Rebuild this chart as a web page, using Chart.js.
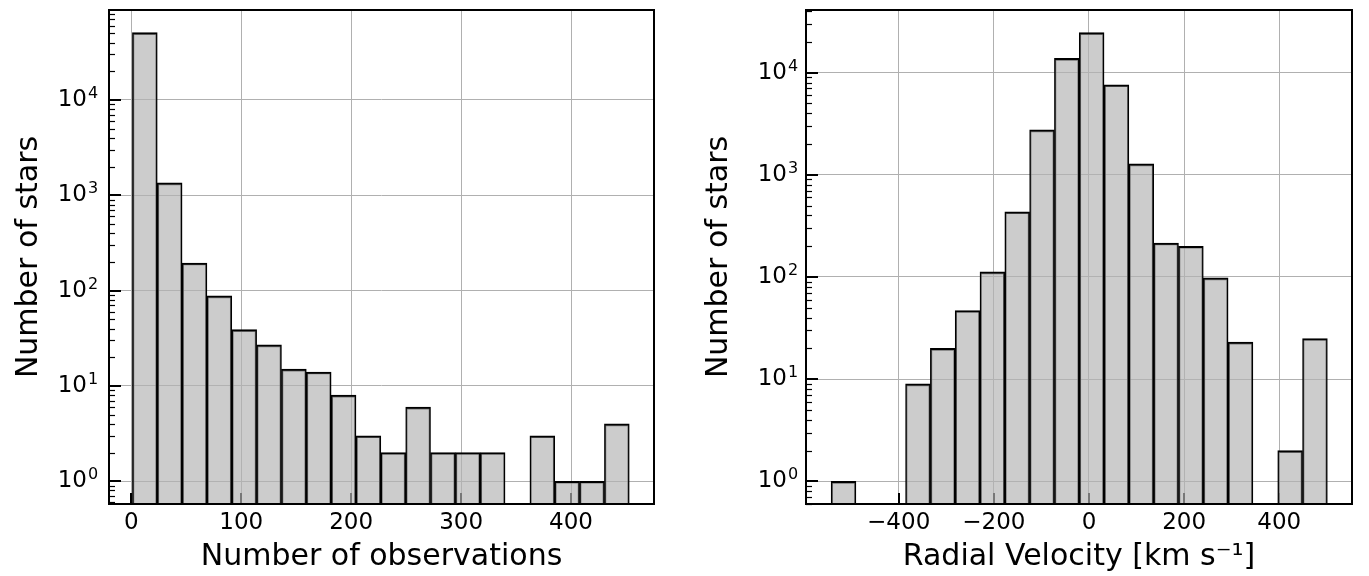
<!DOCTYPE html>
<html>
<head>
<meta charset="utf-8">
<script src="https://cdn.jsdelivr.net/npm/chart.js@4.4.1/dist/chart.umd.min.js"></script>
<style>
  html, body { margin: 0; padding: 0; background: #fff; }
  #wrap { position: relative; width: 1369px; height: 576px; }
  .panel { position: absolute; top: 0; height: 576px; }
</style>
</head>
<body>
<div id="wrap">
  <div class="panel" style="left:0;width:684px"><canvas id="obsChart" width="684" height="576"></canvas></div>
  <div class="panel" style="left:684px;width:685px"><canvas id="rvChart" width="685" height="576"></canvas></div>
</div>
<script>
// Left panel: number of observations per star (20 bins)
const obsBinStart = 1;
const obsBinWidth = 22.6;
const obsCounts = [50800, 1350, 195, 88, 39, 27, 15, 14, 8, 3, 2, 6, 2, 2, 2, 0, 3, 1, 1, 4];
const obsTicks = [0, 100, 200, 300, 400];

// Right panel: radial velocity (20 bins)
const rvBinStart = -542;
const rvBinWidth = 52.15;
const rvCounts = [1, 0, 0, 9, 20, 47, 112, 435, 2750, 13800, 24600, 7600, 1280, 215, 200, 98, 23, 0, 2, 25];
const rvTicks = [-400, -200, 0, 200, 400];

// Shared log y ticks
const logTicks = [1, 10, 100, 1000, 10000];

const FONT = "'DejaVu Sans', sans-serif";
Chart.defaults.font.family = FONT;
Chart.defaults.color = '#000';

const numLabel = (v) => (v < 0 ? '\u2212' + Math.abs(v) : String(v));

// Inside ticks (matplotlib style), axes frame and the 10^n exponents
const axisFrame = {
  id: 'axisFrame',
  beforeDatasetsDraw(chart) {
    const { ctx, chartArea: a, scales: { x } } = chart;
    ctx.save();
    ctx.strokeStyle = '#000';
    ctx.lineWidth = 2;
    x.ticks.forEach(t => {
      const px = Math.round(x.getPixelForValue(t.value));
      ctx.beginPath();
      ctx.moveTo(px, a.bottom);
      ctx.lineTo(px, a.bottom - 11);
      ctx.stroke();
    });
    ctx.restore();
  },
  afterDatasetsDraw(chart) {
    const { ctx, chartArea: a, scales: { y } } = chart;
    ctx.save();
    ctx.strokeStyle = '#000';
    for (let e = -1; e <= 5; e++) {
      for (let m = 2; m <= 9; m++) {
        const v = m * Math.pow(10, e);
        if (v < y.min || v > y.max) continue;
        const py = Math.round(y.getPixelForValue(v)) + 0.5;
        ctx.lineWidth = 1.2;
        ctx.beginPath();
        ctx.moveTo(a.left, py);
        ctx.lineTo(a.left + 6, py);
        ctx.stroke();
      }
    }
    logTicks.forEach(v => {
      if (v < y.min || v > y.max) return;
      const py = Math.round(y.getPixelForValue(v));
      ctx.lineWidth = 2;
      ctx.beginPath();
      ctx.moveTo(a.left, py);
      ctx.lineTo(a.left + 12, py);
      ctx.stroke();
    });
    ctx.lineWidth = 2;
    ctx.strokeRect(a.left, a.top, a.right - a.left, a.bottom - a.top);
    ctx.restore();
  },
  afterDraw(chart, args, opts) {
    const { ctx, chartArea: a, scales: { y } } = chart;
    ctx.save();
    ctx.fillStyle = '#000';
    ctx.font = '16px ' + FONT;
    ctx.textAlign = 'left';
    ctx.textBaseline = 'alphabetic';
    logTicks.forEach(v => {
      if (v < y.min || v > y.max) return;
      const py = y.getPixelForValue(v);
      ctx.fillText(String(Math.round(Math.log10(v))), a.left - opts.tickPad + 1, py - 2);
    });
    ctx.restore();
  }
};

const makeHist = (id, cfg) => {
  const ctx = document.getElementById(id).getContext('2d');
  const data = cfg.counts.map((c, i) => ({
    x: cfg.binStart + (i + 0.5) * cfg.binWidth,
    y: c > 0 ? c : null
  }));

  return new Chart(ctx, {
    type: 'bar',
    data: {
      datasets: [{
        data: data,
        backgroundColor: 'rgba(178, 178, 178, 0.667)',
        borderColor: '#000',
        borderWidth: { top: 2, left: 1.5, right: 1.5, bottom: 0 },
        borderSkipped: false,
        barPercentage: 1,
        categoryPercentage: 1
      }]
    },
    options: {
      responsive: false,
      animation: false,
      layout: { padding: { top: 10, right: cfg.rightPad, left: 0, bottom: 0 } },
      plugins: {
        legend: { display: false },
        tooltip: { enabled: false },
        axisFrame: { tickPad: cfg.tickPad }
      },
      scales: {
        x: {
          type: 'linear',
          offset: false,
          min: cfg.xMin,
          max: cfg.xMax,
          afterBuildTicks: (s) => { s.ticks = cfg.xTicks.map(v => ({ value: v })); },
          afterFit: (s) => { s.height = 72; s.paddingLeft = 0; s.paddingRight = 0; },
          grid: { color: '#b0b0b0', lineWidth: 1, drawTicks: false, offset: false },
          border: { display: false },
          ticks: {
            padding: 5,
            maxRotation: 0,
            autoSkip: false,
            font: { size: 23 },
            callback: (v) => numLabel(v)
          },
          title: {
            display: true,
            text: cfg.xTitle,
            font: { size: 30 },
            padding: { top: 0, bottom: 1 }
          }
        },
        y: {
          type: 'logarithmic',
          min: cfg.yMin,
          max: cfg.yMax,
          afterBuildTicks: (s) => { s.ticks = logTicks.map(v => ({ value: v })); },
          afterFit: (s) => { s.width = cfg.leftWidth; s.paddingTop = 0; s.paddingBottom = 0; },
          grid: { color: '#b0b0b0', lineWidth: 1, drawTicks: false },
          border: { display: false },
          ticks: {
            padding: cfg.tickPad,
            autoSkip: false,
            font: { size: 23 },
            callback: () => '10'
          },
          title: {
            display: true,
            text: 'Number of stars',
            font: { size: 30 },
            padding: { top: cfg.titlePad, bottom: 0 }
          }
        }
      }
    },
    plugins: [axisFrame]
  });
};

makeHist('obsChart', {
  binStart: obsBinStart,
  binWidth: obsBinWidth,
  counts: obsCounts,
  xTicks: obsTicks,
  xMin: -20.3,
  xMax: 475.5,
  yMin: 0.577,
  yMax: 87900,
  xTitle: 'Number of observations',
  leftWidth: 109,
  rightPad: 30,
  tickPad: 22,
  titlePad: 11
});

makeHist('rvChart', {
  binStart: rvBinStart,
  binWidth: rvBinWidth,
  counts: rvCounts,
  xTicks: rvTicks,
  xMin: -594.8,
  xMax: 552.8,
  yMin: 0.605,
  yMax: 41000,
  xTitle: 'Radial Velocity [km s⁻¹]',
  leftWidth: 122,
  rightPad: 17,
  tickPad: 19,
  titlePad: 17
});
</script>
</body>
</html>
